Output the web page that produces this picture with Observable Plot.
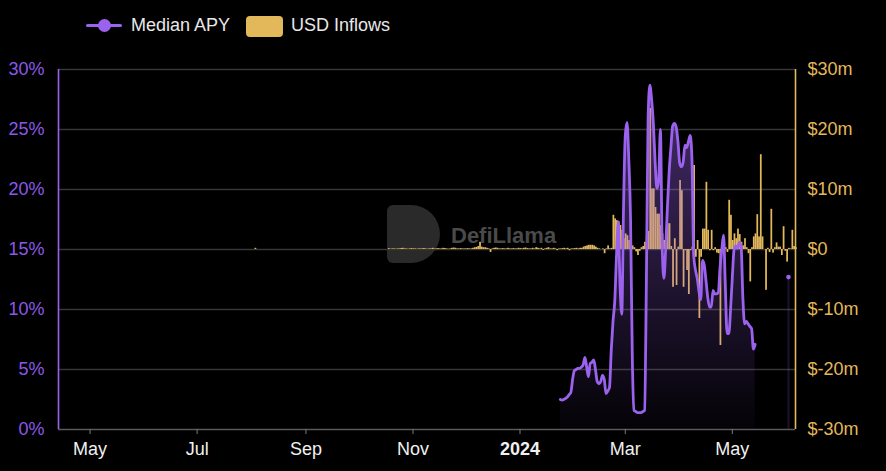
<!DOCTYPE html>
<html>
<head>
<meta charset="utf-8">
<script src="https://cdn.jsdelivr.net/npm/d3@7"></script>
<script src="https://cdn.jsdelivr.net/npm/@observablehq/plot@0.6"></script>
<style>
html, body { margin: 0; padding: 0; background: #000; }
#wrap { position: relative; width: 886px; height: 471px; overflow: hidden; font-family: "Liberation Sans", Arial, sans-serif; }
#legend { position: relative; height: 50px; color: #e8e8e8; font-size: 18px; }
.lg-line { position: absolute; left: 86px; top: 24px; width: 36px; height: 3px; background: #9b62ee; border-radius: 2px; }
.lg-dot { position: absolute; left: 98px; top: 19px; width: 13px; height: 13px; border-radius: 50%; background: #9b62ee; }
.lg-text1 { position: absolute; left: 131px; top: 15px; line-height: 20px; }
.lg-box { position: absolute; left: 246px; top: 16px; width: 37px; height: 21px; border-radius: 4px; background: #e3b85b; }
.lg-text2 { position: absolute; left: 291px; top: 15px; line-height: 20px; }
#wm-d { position: absolute; left: 387px; top: 205px; width: 53px; height: 58px; background: #2a2a2a; border-radius: 6px 29px 29px 6px / 6px 29px 29px 6px; z-index: 0; }
#wm-t { position: absolute; left: 451px; top: 222px; font-size: 22px; font-weight: bold; color: #4a4a4a; z-index: 0; line-height: 28px; }
#chart { position: relative; z-index: 1; }
</style>
</head>
<body>
<div id="wrap">
  <div id="legend">
    <div class="lg-line"></div><div class="lg-dot"></div><div class="lg-text1">Median APY</div>
    <div class="lg-box"></div><div class="lg-text2">USD Inflows</div>
  </div>
  <div id="wm-d"></div>
  <div id="wm-t">DefiLlama</div>
  <div id="chart"></div>
</div>
<script>
// ---- data ----
const seriesNames = ["Median APY", "USD Inflows"];
const apyFirstDate = "2024-01-24";
const apyValues = [
  2.5, 2.45, 2.5, 2.6, 2.7, 2.9, 3.1, 4.2, 4.9, 5.0,
  5.1, 5.1, 5.2, 5.4, 6.0, 5.2, 4.4, 5.5, 5.6, 5.8,
  5.0, 4.0, 3.8, 4.0, 4.5, 4.2, 3.0, 3.2, 3.5, 6.6,
  9.0, 10.7, 14.5, 17.3, 12.0, 9.6, 18.5, 24.5, 25.6, 22.5,
  17.5, 6.0, 1.6, 1.5, 1.4, 1.4, 1.4, 1.5, 1.6, 12.0,
  26.0, 28.7, 27.5, 25.5, 22.3, 20.1, 20.7, 25.0, 15.5, 12.6,
  15.0, 18.5, 21.5, 23.5, 25.3, 25.5, 25.2, 24.0, 22.2, 21.9,
  22.3, 23.7, 23.5, 24.0, 24.5, 22.5, 14.5, 13.3, 12.6, 11.5,
  10.8, 14.1, 13.7, 12.4, 11.0, 10.2, 10.2, 11.6, 11.3, 11.3,
  11.4, 13.5, 15.0, 16.2, 12.0, 8.0, 8.0, 10.0, 12.7, 15.0,
  15.3, 15.1, 15.6, 15.3, 11.0, 8.8, 9.0, 8.8, 8.6, 8.4,
  6.7, 7.1
];
const apyLateDate = "2024-06-02";
const apyLateValue = 12.7;

const inflowEarlyDate = "2023-08-03";
const inflowEarlyValue = 0.2;
const inflowFirstDate = "2023-10-18";
const inflowValues = [
  0.15, 0.05, 0.1, 0.1, 0.05, 0.1, 0.1, 0.15, 0.2, 0.1, 0.1, 0.05, 0.1, 0.15, 0.1, 0.1, 0.05, 0.1, 0.1, 0.1, 0.15, 0.1, 0.05, 0.1, 0.1,
  0.2, 0.1, 0.1, 0.15, 0.1, 0.1, 0.2, 0.15, 0.1, 0.05, 0.1, 0.2, 0.25, 0.2, 0.1, 0.1, 0.15, 0.1, 0.1, 0.1, 0.15, 0.1, 0.1, 0.2, 0.3,
  0.35, 0.5, 1.2, 0.4, 0.3, 0.3, 0.2, 0.1, -0.5, 0.1, 0.2, 0.25, 0.2, 0.1, 0.1, 0.15, 0.1, 0.1, 0.2, 0.1, 0.1, 0.15, 0.1, 0.1, 0.2,
  0.15, 0.1, 0.2, 0.25, 0.15, 0.1, 0.1, 0.2, 0.1, 0.3, 0.2, 0.1, 0.2, -0.15, 0.1, 0.2, 0.3, 0.1, 0.1, 0.2, 0.1, -0.2, 0.1, 0.1, 0.15,
  0.2, 0.1, 0.2, -0.2, 0.1, 0.1, 0.15, 0.2, 0.1, 0.2, 0.2, 0.4, 0.5, 0.6, 0.7, 0.7, 0.7, 0.6, 0.4, 0.2, 0.1, 0.0, 0.1,
  -0.7, 0.1, 0.6, 0.1, 0.2, 5.7, 5.1, 4.8, 4.6, 4.0, 3.2, 1.8, 2.6, 2.3, 1.5, 0.9, 0.6, 0.3, -0.4, -1.0, -0.3, 0.3, 0.5, 1.2, 2.0, 3.0,
  23.5, 10.1, 10.1, 7.0, 5.9, 5.9,
  4.0, 2.6, 1.5, 0.5, 4.3, 4.3, 0.5, -6.3, 1.8, -6.0, 0.4, 11.5, 9.8, -6.3, -0.2, -3.5, -7.5, -0.2, 0.4, 14.0,
  -1.3, 1.5, -11.5, -1.3, 3.4, 3.4, 11.2, 3.2, -0.2, 3.2, -0.2, 0.3, -0.6, -0.7, -16.0,
  -0.3, 0.4, 0.3, -0.5, 8.2, 5.7, 1.5, 2.6, 1.8, 3.4, 2.5, 1.2, 0.6, 1.8, 0.3, -0.7, -5.4, 0.3, 2.1, 2.6, 5.8, 2.1,
  15.8, 2.1, 0.0, -6.8, 0.2, -0.5, 6.7, -0.6, 0.3, 1.1, 0.4, 0.4, -1.0, 3.8, -0.3, -2.1, 0.2, 0.1, 3.2, 0.5, 0.3
];

const xDomainDates = ["2023-04-13", "2024-06-06"];
const xTickDates = ["2023-05-01", "2023-07-01", "2023-09-01", "2023-11-01", "2024-01-01", "2024-03-01", "2024-05-01"];
const xTickLabels = ["May", "Jul", "Sep", "Nov", "2024", "Mar", "May"];
const apyTicks = [0, 5, 10, 15, 20, 25, 30];
const apyTickLabels = ["0%", "5%", "10%", "15%", "20%", "25%", "30%"];
const inflowTicks = [-30, -20, -10, 0, 10, 20, 30];
const inflowTickLabels = ["$-30m", "$-20m", "$-10m", "$0", "$10m", "$20m", "$30m"];

// ---- styling ----
const purple = "#9b62ee";
const purpleText = "#8b58e6";
const gold = "#e3b85b";

// ---- build tables ----
const parse = d3.utcParse("%Y-%m-%d");
const apyStart = parse(apyFirstDate);
const apyRows = apyValues.map((v, i) => ({date: d3.utcDay.offset(apyStart, i), value: v}));
const apyLate = {date: parse(apyLateDate), value: apyLateValue};

const inflowStart = parse(inflowFirstDate);
const inflowRows = [{date: parse(inflowEarlyDate), value: inflowEarlyValue},
  ...inflowValues.map((v, i) => ({date: d3.utcDay.offset(inflowStart, i), value: v}))];
// inflow axis (-30..30 $m) shares the frame with the APY axis (0..30 %)
const inflowToY = d3.scaleLinear().domain([inflowTicks[0], inflowTicks[inflowTicks.length - 1]]).range([apyTicks[0], apyTicks[apyTicks.length - 1]]);

const xDomain = xDomainDates.map(parse);
const ticks = xTickDates.map(parse);
const boldIdx = xTickLabels.findIndex(l => /^\d{4}$/.test(l));
const monthTicks = ticks.filter((d, i) => i !== boldIdx);
const yearTicks = [ticks[boldIdx]];
const xLabel = d => xTickLabels[ticks.findIndex(t => +t === +d)];

const gradDefs = () => {
  const ns = "http://www.w3.org/2000/svg";
  const defs = document.createElementNS(ns, "defs");
  defs.innerHTML = `<linearGradient id="apyFill" x1="0" y1="0" x2="0" y2="1">
    <stop offset="0" stop-color="${purple}" stop-opacity="0.45"/>
    <stop offset="1" stop-color="${purple}" stop-opacity="0.03"/></linearGradient>`;
  return defs;
};

const chart = Plot.plot({
  width: 886,
  height: 421,
  marginLeft: 58,
  marginRight: 91,
  marginTop: 19,
  marginBottom: 42,
  style: {background: "transparent", fontFamily: "'Liberation Sans', Arial, sans-serif", overflow: "visible"},
  x: {type: "utc", domain: xDomain, label: null},
  y: {domain: [apyTicks[0], apyTicks[apyTicks.length - 1]], label: null},
  marks: [
    gradDefs,
    Plot.gridY(apyTicks.slice(1), {stroke: "#363636", strokeOpacity: 1, strokeWidth: 1.3}),
    Plot.rect(inflowRows, {
      x1: "date", x2: d => d3.utcDay.offset(d.date, 1),
      y1: () => inflowToY(0), y2: d => inflowToY(d.value),
      fill: gold
    }),
    Plot.areaY(apyRows, {x: "date", y: "value", fill: "url(#apyFill)", curve: "monotone-x"}),
    Plot.ruleX([apyLate], {x: "date", y1: 0, y2: "value", stroke: purple, strokeOpacity: 0.18, strokeWidth: 2}),
    Plot.line(apyRows, {x: "date", y: "value", stroke: purple, strokeWidth: 2.8, curve: "monotone-x"}),
    Plot.dot([apyLate], {x: "date", y: "value", r: 2.3, fill: purple}),
    Plot.ruleY([apyTicks[0]], {stroke: "#5a5a5a", strokeWidth: 1.6}),
    Plot.ruleX([xDomain[0]], {stroke: purple, strokeWidth: 1.6}),
    Plot.ruleX([xDomain[1]], {stroke: gold, strokeWidth: 1.6}),
    Plot.axisY(apyTicks, {anchor: "left", label: null, tickSize: 0, tickPadding: 14, fill: purpleText, fontSize: 18,
      tickFormat: d => apyTickLabels[apyTicks.indexOf(d)]}),
    Plot.axisY(apyTicks, {anchor: "right", label: null, tickSize: 0, tickPadding: 12, fill: gold, fontSize: 18,
      tickFormat: d => inflowTickLabels[apyTicks.indexOf(d)]}),
    Plot.axisX(monthTicks, {anchor: "bottom", label: null, tickSize: 5, tickPadding: 8, stroke: "#7a7a7a", fill: "#f0f0f0", fontSize: 18,
      tickFormat: xLabel}),
    Plot.axisX(yearTicks, {anchor: "bottom", label: null, tickSize: 5, tickPadding: 8, stroke: "#7a7a7a", fill: "#f0f0f0", fontSize: 18, fontWeight: "bold",
      tickFormat: xLabel})
  ]
});
document.getElementById("chart").appendChild(chart);
</script>
</body>
</html>
